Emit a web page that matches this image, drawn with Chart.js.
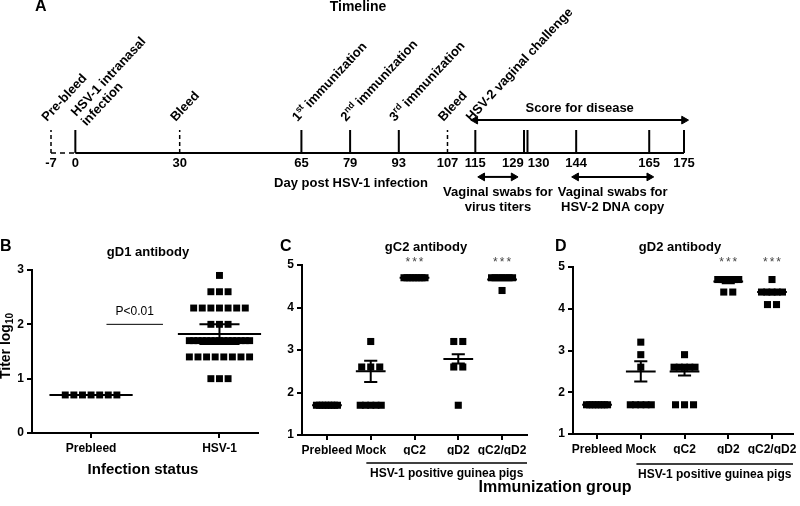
<!DOCTYPE html>
<html>
<head>
<meta charset="utf-8">
<script src="https://cdn.jsdelivr.net/npm/chart.js@4/dist/chart.umd.min.js"></script>
<style>
  body { margin: 0; background: #fff; }
  #wrap { position: relative; width: 800px; height: 506px; }
  canvas { position: absolute; left: 0; top: 0; }
</style>
</head>
<body>
<div id="wrap">
  <canvas id="timelineChart" width="800" height="506"></canvas>
  <canvas id="gD1Chart" width="800" height="506"></canvas>
  <canvas id="gC2Chart" width="800" height="506"></canvas>
  <canvas id="gD2Chart" width="800" height="506"></canvas>
</div>
<script>
const FONT = "'Liberation Sans', Arial, Helvetica, sans-serif";

// panel A - timeline (days post HSV-1 infection)
const timelineDays = [-7, 0, 30, 65, 79, 93, 107, 115, 129, 130, 144, 165, 175];
const dashedDays = [-7, 30, 107];
const labelledDays = [-7, 0, 30, 65, 79, 93, 107, 115];
const labelTexts = ['Pre-bleed', 'HSV-1 intranasal|infection', 'Bleed', '1^st^ immunization',
  '2^nd^ immunization', '3^rd^ immunization', 'Bleed', 'HSV-2 vaginal challenge'];
const scoreDays = [115, 175];
const swabTiterDays = [117, 126];
const swabDnaDays = [144, 165];

// panel B - gD1 antibody
const gD1Groups = ['Prebleed', 'HSV-1'];
const gD1Prebleed = [0.7, 0.7, 0.7, 0.7, 0.7, 0.7, 0.7];
const gD1Hsv1 = [2.9, 2.6, 2.6, 2.6, 2.3, 2.3, 2.3, 2.3, 2.3, 2.3, 2.3, 2.0, 2.0, 2.0,
  1.7, 1.7, 1.7, 1.7, 1.7, 1.7, 1.7, 1.7, 1.7, 1.7, 1.7, 1.7, 1.7, 1.7, 1.7,
  1.4, 1.4, 1.4, 1.4, 1.4, 1.4, 1.4, 1.4, 1.0, 1.0, 1.0];
const gD1Mean = [0.7, 1.82];
const gD1Sem = [0, 0.18];

// panel C - gC2 antibody
const immGroups = ['Prebleed', 'Mock', 'gC2', 'gD2', 'gC2/gD2'];
const gC2Prebleed = [1.7, 1.7, 1.7, 1.7, 1.7, 1.7, 1.7, 1.7];
const gC2Mock = [3.2, 2.6, 2.6, 2.6, 1.7, 1.7, 1.7, 1.7, 1.7];
const gC2GC2 = [4.7, 4.7, 4.7, 4.7, 4.7, 4.7, 4.7, 4.7];
const gC2GD2 = [3.2, 3.2, 2.6, 2.6, 1.7];
const gC2Combo = [4.7, 4.7, 4.7, 4.7, 4.7, 4.7, 4.7, 4.4];
const gC2Mean = [1.7, 2.5, 4.7, 2.79, 4.66];
const gC2Sem = [0, 0.25, 0, 0.11, 0];
const gC2Stars = ['', '', '***', '', '***'];

// panel D - gD2 antibody
const gD2Prebleed = [1.7, 1.7, 1.7, 1.7, 1.7, 1.7, 1.7, 1.7];
const gD2Mock = [3.2, 2.9, 2.6, 1.7, 1.7, 1.7, 1.7, 1.7];
const gD2GC2 = [2.9, 2.6, 2.6, 2.6, 2.6, 2.6, 1.7, 1.7, 1.7];
const gD2GD2 = [4.7, 4.7, 4.7, 4.7, 4.7, 4.7, 4.4, 4.4];
const gD2Combo = [4.7, 4.4, 4.4, 4.4, 4.4, 4.4, 4.1, 4.1];
const gD2Mean = [1.7, 2.5, 2.5, 4.65, 4.4];
const gD2Sem = [0, 0.24, 0.1, 0.04, 0.05];
const gD2Stars = ['', '', '', '***', '***'];

function drawText(ctx, text, x, y, size, weight, align, color) {
  ctx.save();
  ctx.font = `${weight} ${size}px ${FONT}`;
  ctx.fillStyle = color || '#000';
  ctx.textAlign = align || 'center';
  ctx.textBaseline = 'middle';
  ctx.fillText(text, x, y);
  ctx.restore();
}

// ---------- panel A ----------
function tickSegments(days) {
  const pts = [];
  days.forEach(d => pts.push({ x: d, y: 0 }, { x: d, y: 1 }, { x: d, y: null }));
  return pts;
}

function arrowDataset(days, level) {
  return {
    data: [{ x: days[0], y: level }, { x: days[1], y: level }],
    showLine: true, borderColor: '#000', borderWidth: 2,
    pointStyle: 'triangle', pointRadius: 4.5, pointRotation: [-90, 90],
    pointBackgroundColor: '#000', pointBorderColor: '#000', pointBorderWidth: 1, clip: false
  };
}

const LABEL_ANGLE = 47 * Math.PI / 180;

function drawEventLabel(ctx, text, tickX) {
  const lines = text.split('|');
  const n = lines.length;
  const lh = 14;
  const bx = tickX - 4 + 5 * (n - 1);
  const by = 122 - 5 * (n - 1);
  lines.forEach((line, j) => {
    ctx.save();
    ctx.translate(bx + j * lh * Math.sin(LABEL_ANGLE), by + j * lh * Math.cos(LABEL_ANGLE));
    ctx.rotate(-LABEL_ANGLE);
    ctx.fillStyle = '#000';
    ctx.textAlign = 'left';
    ctx.textBaseline = 'alphabetic';
    let cx = 0;
    line.split('^').forEach((part, i) => {
      const sup = i % 2 === 1;
      ctx.font = `bold ${sup ? 9 : 13}px ${FONT}`;
      ctx.fillText(part, cx, sup ? -5 : 0);
      cx += ctx.measureText(part).width;
    });
    ctx.restore();
  });
}

const timelinePlugin = {
  id: 'timelineText',
  afterDraw(chart) {
    const ctx = chart.ctx;
    const xs = chart.scales.x;
    const ys = chart.scales.y;
    drawText(ctx, 'A', 35, 7, 16, 'bold', 'left');
    drawText(ctx, 'Timeline', 358, 7, 14, 'bold');

    // day labels under the axis
    const px = timelineDays.map(d => xs.getPixelForValue(d));
    const labelY = ys.getPixelForValue(0) + 10;
    timelineDays.forEach((d, i) => {
      let x = px[i];
      let align = 'center';
      if (i < px.length - 1 && px[i + 1] - px[i] < 22) {
        x = (px[i] + px[i + 1]) / 2 - 2; align = 'right';
      } else if (i > 0 && px[i] - px[i - 1] < 22) {
        x = (px[i] + px[i - 1]) / 2 + 2; align = 'left';
      }
      drawText(ctx, String(d), x, labelY, 13, 'bold', align);
    });
    drawText(ctx, 'Day post HSV-1 infection', 351, 183, 13, 'bold');

    labelledDays.forEach((d, i) => drawEventLabel(ctx, labelTexts[i], xs.getPixelForValue(d)));

    const scoreMid = xs.getPixelForValue((scoreDays[0] + scoreDays[1]) / 2);
    drawText(ctx, 'Score for disease', scoreMid, 108, 13, 'bold');
    const titerMid = xs.getPixelForValue((swabTiterDays[0] + swabTiterDays[1]) / 2);
    drawText(ctx, 'Vaginal swabs for', titerMid, 192, 13, 'bold');
    drawText(ctx, 'virus titers', titerMid, 207, 13, 'bold');
    const dnaMid = xs.getPixelForValue((swabDnaDays[0] + swabDnaDays[1]) / 2);
    drawText(ctx, 'Vaginal swabs for', dnaMid, 192, 13, 'bold');
    drawText(ctx, 'HSV-2 DNA copy', dnaMid, 207, 13, 'bold');
  }
};

// y: 0 = axis line, 1 = top of tick marks (23 px per unit)
new Chart(document.getElementById('timelineChart'), {
  type: 'scatter',
  data: {
    datasets: [
      { data: [{ x: 0, y: 0 }, { x: 175, y: 0 }], showLine: true, borderColor: '#000', borderWidth: 2, pointRadius: 0, clip: false },
      { data: [{ x: -7, y: 0 }, { x: 0, y: 0 }], showLine: true, borderColor: '#000', borderWidth: 1.5, borderDash: [5, 4], pointRadius: 0, clip: false },
      { data: tickSegments(timelineDays.filter(d => !dashedDays.includes(d))), showLine: true, borderColor: '#000', borderWidth: 2, pointRadius: 0, spanGaps: false, clip: false },
      { data: tickSegments(dashedDays), showLine: true, borderColor: '#000', borderWidth: 1.5, borderDash: [4, 3], pointRadius: 0, spanGaps: false, clip: false },
      arrowDataset(scoreDays, 1.43),
      arrowDataset(swabTiterDays, -1.04),
      arrowDataset(swabDnaDays, -1.04)
    ]
  },
  options: {
    responsive: false, animation: false, events: [],
    layout: { padding: { left: 51, right: 116, top: 107, bottom: 316.2 } },
    scales: {
      x: { type: 'linear', min: -7, max: 175, display: false },
      y: { type: 'linear', min: -1.6, max: 2, display: false }
    },
    plugins: { legend: { display: false }, tooltip: { enabled: false } }
  },
  plugins: [timelinePlugin]
});

// ---------- dot plots ----------
function spreadPoints(groupValues, step, maxSpread) {
  const pts = [];
  groupValues.forEach((values, gi) => {
    const rows = {};
    values.forEach(v => { (rows[v] = rows[v] || []).push(v); });
    Object.keys(rows).forEach(key => {
      const row = rows[key];
      const width = Math.min((row.length - 1) * step, maxSpread);
      const gap = row.length > 1 ? width / (row.length - 1) : 0;
      row.forEach((v, j) => pts.push({ x: gi - width / 2 + j * gap, y: v }));
    });
  });
  return pts;
}

function meanSemSegments(means, sems, meanHalf, capHalf) {
  const pts = [];
  means.forEach((m, i) => {
    pts.push({ x: i - meanHalf, y: m }, { x: i + meanHalf, y: m }, { x: i, y: null });
    const s = sems[i];
    if (s > 0) {
      pts.push({ x: i, y: m - s }, { x: i, y: m + s }, { x: i, y: null });
      pts.push({ x: i - capHalf, y: m + s }, { x: i + capHalf, y: m + s }, { x: i, y: null });
      pts.push({ x: i - capHalf, y: m - s }, { x: i + capHalf, y: m - s }, { x: i, y: null });
    }
  });
  return pts;
}

function dotChart(id, groups, values, means, sems, opts, plugin) {
  const tickFont = { family: FONT, size: 12, weight: 'bold' };
  return new Chart(document.getElementById(id), {
    type: 'scatter',
    data: {
      datasets: [
        { data: spreadPoints(values, opts.step, opts.maxSpread), pointStyle: 'rect', pointRadius: opts.radius,
          pointBackgroundColor: '#000', pointBorderWidth: 0, clip: false },
        { data: meanSemSegments(means, sems, opts.meanHalf, opts.capHalf), showLine: true, spanGaps: false,
          borderColor: '#000', borderWidth: 2, pointRadius: 0, clip: false }
      ]
    },
    options: {
      responsive: false, animation: false, events: [],
      layout: { padding: opts.padding },
      scales: {
        x: {
          type: 'linear', min: opts.xMin, max: opts.xMax,
          afterBuildTicks: s => { s.ticks = groups.map((g, i) => ({ value: i })); },
          afterFit: s => { s.height = 20; },
          ticks: { callback: v => groups[v], autoSkip: false, maxRotation: 0, color: '#000', font: tickFont, padding: 3 },
          grid: { drawOnChartArea: false, tickLength: 5, color: '#000', lineWidth: 2 },
          border: { display: true, color: '#000', width: 2 }
        },
        y: {
          type: 'linear', min: opts.yMin, max: opts.yMax,
          afterFit: s => { s.width = 24; },
          ticks: { stepSize: 1, color: '#000', font: tickFont, padding: 3 },
          grid: { drawOnChartArea: false, tickLength: 5, color: '#000', lineWidth: 2 },
          border: { display: true, color: '#000', width: 2 }
        }
      },
      plugins: { legend: { display: false }, tooltip: { enabled: false } }
    },
    plugins: [plugin]
  });
}

function drawStars(chart, stars) {
  const xs = chart.scales.x;
  const ctx = chart.ctx;
  stars.forEach((s, i) => {
    if (!s) return;
    ctx.save();
    ctx.font = `12px ${FONT}`;
    ctx.letterSpacing = '2px';
    ctx.fillStyle = '#444';
    ctx.textAlign = 'center';
    ctx.textBaseline = 'middle';
    ctx.fillText(s, xs.getPixelForValue(i) + 1, 263);
    ctx.restore();
  });
}

function drawGroupBracket(chart, y) {
  const xs = chart.scales.x;
  const ctx = chart.ctx;
  const x0 = xs.getPixelForValue(0.9);
  const x1 = chart.chartArea.right;
  ctx.save();
  ctx.strokeStyle = '#000';
  ctx.lineWidth = 1.5;
  ctx.beginPath();
  ctx.moveTo(x0, y);
  ctx.lineTo(x1, y);
  ctx.stroke();
  ctx.restore();
  drawText(ctx, 'HSV-1 positive guinea pigs', (x0 + x1) / 2, y + 11, 12, 'bold');
}

const gD1Plugin = {
  id: 'gD1Text',
  afterDraw(chart) {
    const ctx = chart.ctx;
    const xs = chart.scales.x;
    const ys = chart.scales.y;
    drawText(ctx, 'B', 0, 247, 16, 'bold', 'left');
    drawText(ctx, 'gD1 antibody', 148, 252, 13, 'bold');
    drawText(ctx, 'Infection status', 143, 470, 15, 'bold');
    // significance bracket
    const py = ys.getPixelForValue(2);
    const bx0 = xs.getPixelForValue(0.12);
    const bx1 = xs.getPixelForValue(0.56);
    ctx.save();
    ctx.strokeStyle = '#000';
    ctx.lineWidth = 1;
    ctx.beginPath();
    ctx.moveTo(bx0, py);
    ctx.lineTo(bx1, py);
    ctx.stroke();
    ctx.restore();
    drawText(ctx, 'P<0.01', (bx0 + bx1) / 2, py - 13, 12, 'normal');
    // y axis title with subscript
    ctx.save();
    ctx.translate(6, 346);
    ctx.rotate(-Math.PI / 2);
    ctx.fillStyle = '#000';
    ctx.textBaseline = 'middle';
    ctx.font = `bold 14px ${FONT}`;
    const main = 'Titer log';
    const wMain = ctx.measureText(main).width;
    ctx.font = `bold 10px ${FONT}`;
    const wSub = ctx.measureText('10').width;
    const start = -(wMain + wSub) / 2;
    ctx.font = `bold 14px ${FONT}`;
    ctx.textAlign = 'left';
    ctx.fillText(main, start, 0);
    ctx.font = `bold 10px ${FONT}`;
    ctx.fillText('10', start + wMain, 4);
    ctx.restore();
  }
};

const gC2Plugin = {
  id: 'gC2Text',
  afterDraw(chart) {
    const ctx = chart.ctx;
    drawText(ctx, 'C', 280, 247, 16, 'bold', 'left');
    drawText(ctx, 'gC2 antibody', 426, 247, 13, 'bold');
    drawStars(chart, gC2Stars);
    drawGroupBracket(chart, 463);
    drawText(ctx, 'Immunization group', 555, 488, 16, 'bold');
  }
};

const gD2Plugin = {
  id: 'gD2Text',
  afterDraw(chart) {
    const ctx = chart.ctx;
    drawText(ctx, 'D', 555, 247, 16, 'bold', 'left');
    drawText(ctx, 'gD2 antibody', 680, 247, 13, 'bold');
    drawStars(chart, gD2Stars);
    drawGroupBracket(chart, 464);
  }
};

dotChart('gD1Chart', gD1Groups, [gD1Prebleed, gD1Hsv1], gD1Mean, gD1Sem, {
  step: 0.067, maxSpread: 0.47, radius: 4.9, meanHalf: 0.324, capHalf: 0.156,
  xMin: -0.46, xMax: 1.3, yMin: 0, yMax: 3,
  padding: { left: 8, right: 542, top: 270, bottom: 53 }
}, gD1Plugin);

dotChart('gC2Chart', immGroups, [gC2Prebleed, gC2Mock, gC2GC2, gC2GD2, gC2Combo], gC2Mean, gC2Sem, {
  step: 0.206, maxSpread: 0.48, radius: 5, meanHalf: 0.34, capHalf: 0.15,
  xMin: -0.57, xMax: 4.57, yMin: 1, yMax: 5,
  padding: { left: 278, right: 273, top: 265, bottom: 51 }
}, gC2Plugin);

dotChart('gD2Chart', immGroups, [gD2Prebleed, gD2Mock, gD2GC2, gD2GD2, gD2Combo], gD2Mean, gD2Sem, {
  step: 0.206, maxSpread: 0.48, radius: 5, meanHalf: 0.34, capHalf: 0.15,
  xMin: -0.55, xMax: 4.48, yMin: 1, yMax: 5,
  padding: { left: 549, right: 7, top: 267, bottom: 52 }
}, gD2Plugin);
</script>
</body>
</html>
